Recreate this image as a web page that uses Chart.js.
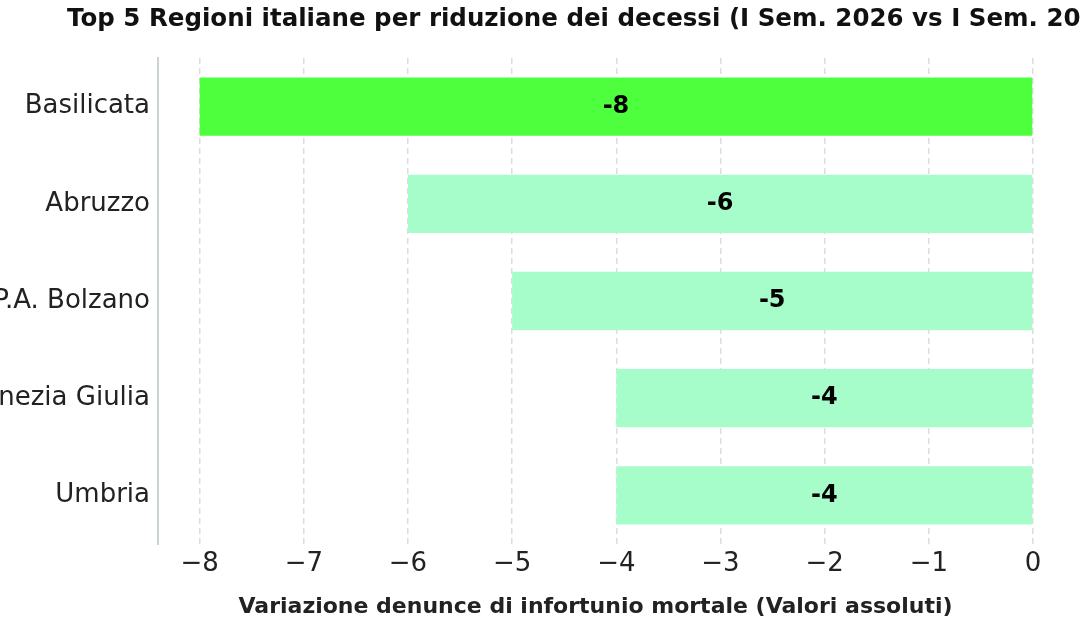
<!DOCTYPE html>
<html>
<head>
<meta charset="utf-8">
<script src="https://cdn.jsdelivr.net/npm/chart.js@4"></script>
<style>
  html, body { margin: 0; padding: 0; background: #fff; overflow: hidden; }
  #wrap { width: 1080px; height: 630px; position: relative; }
</style>
</head>
<body>
<div id="wrap"><canvas id="chart"></canvas></div>
<script>
// --- Data ---
const regions = ["Basilicata", "Abruzzo", "P.A. Bolzano", "Friuli Venezia Giulia", "Umbria"];
const deltas = [-8, -6, -5, -4, -4];
const barColors = ["#4eff3e", "#a6fdc9", "#a6fdc9", "#a6fdc9", "#a6fdc9"];
const xTicks = [-8, -7, -6, -5, -4, -3, -2, -1, 0];

const titleText = "Top 5 Regioni italiane per riduzione dei decessi (I Sem. 2026 vs I Sem. 2025)";
const xTitle = "Variazione denunce di infortunio mortale (Valori assoluti)";

const FONT = "'DejaVu Sans', sans-serif";

// Title drawn left-anchored so it overflows the right edge like the original
const titlePlugin = {
    id: 'leftTitle',
    afterDraw(chart) {
        const ctx = chart.ctx;
        ctx.save();
        ctx.font = "bold 24.5px " + FONT;
        ctx.fillStyle = "#111";
        ctx.textAlign = "left";
        ctx.textBaseline = "alphabetic";
        ctx.fillText(titleText, 67, 26);
        ctx.restore();
    }
};

// Value labels in the middle of each bar
const valueLabels = {
    id: 'valueLabels',
    afterDatasetsDraw(chart) {
        const ctx = chart.ctx;
        const meta = chart.getDatasetMeta(0);
        ctx.save();
        ctx.font = "bold 24px " + FONT;
        ctx.fillStyle = "#000";
        ctx.textAlign = "center";
        ctx.textBaseline = "middle";
        meta.data.forEach((bar, i) => {
            ctx.fillText(String(deltas[i]), (bar.x + bar.base) / 2, bar.y);
        });
        ctx.restore();
    }
};

new Chart(document.getElementById('chart'), {
    type: 'bar',
    data: {
        labels: regions,
        datasets: [{
            data: deltas,
            backgroundColor: barColors,
            borderWidth: 0,
            barPercentage: 0.6,
            categoryPercentage: 1.0
        }]
    },
    options: {
        indexAxis: 'y',
        responsive: true,
        maintainAspectRatio: false,
        animation: false,
        layout: { padding: { top: 58, right: 47, bottom: 0, left: 0 } },
        plugins: {
            legend: { display: false },
            tooltip: { enabled: false },
            title: { display: false }
        },
        scales: {
            x: {
                min: -8.4,
                max: 0,
                afterFit(scale) { scale.height = 86; },
                afterBuildTicks(scale) { scale.ticks = xTicks.map(v => ({ value: v })); },
                ticks: {
                    color: "#222",
                    font: { family: FONT, size: 26 },
                    padding: 5,
                    maxRotation: 0,
                    callback: v => v < 0 ? "\u2212" + Math.abs(v) : String(v)
                },
                grid: { color: "#dddddd", lineWidth: 1.5, drawTicks: false },
                border: { display: false, dash: [6, 4] },
                title: {
                    display: true,
                    text: xTitle,
                    color: "#222",
                    font: { family: FONT, size: 22, weight: 'bold' },
                    padding: { top: 0, bottom: 10 }
                }
            },
            y: {
                afterFit(scale) { scale.width = 158; },
                ticks: {
                    color: "#222",
                    font: { family: FONT, size: 26 },
                    padding: 8
                },
                grid: { display: false, drawTicks: false },
                border: { display: true, color: "#ccd3d6", width: 2 }
            }
        }
    },
    plugins: [titlePlugin, valueLabels]
});
</script>
</body>
</html>
